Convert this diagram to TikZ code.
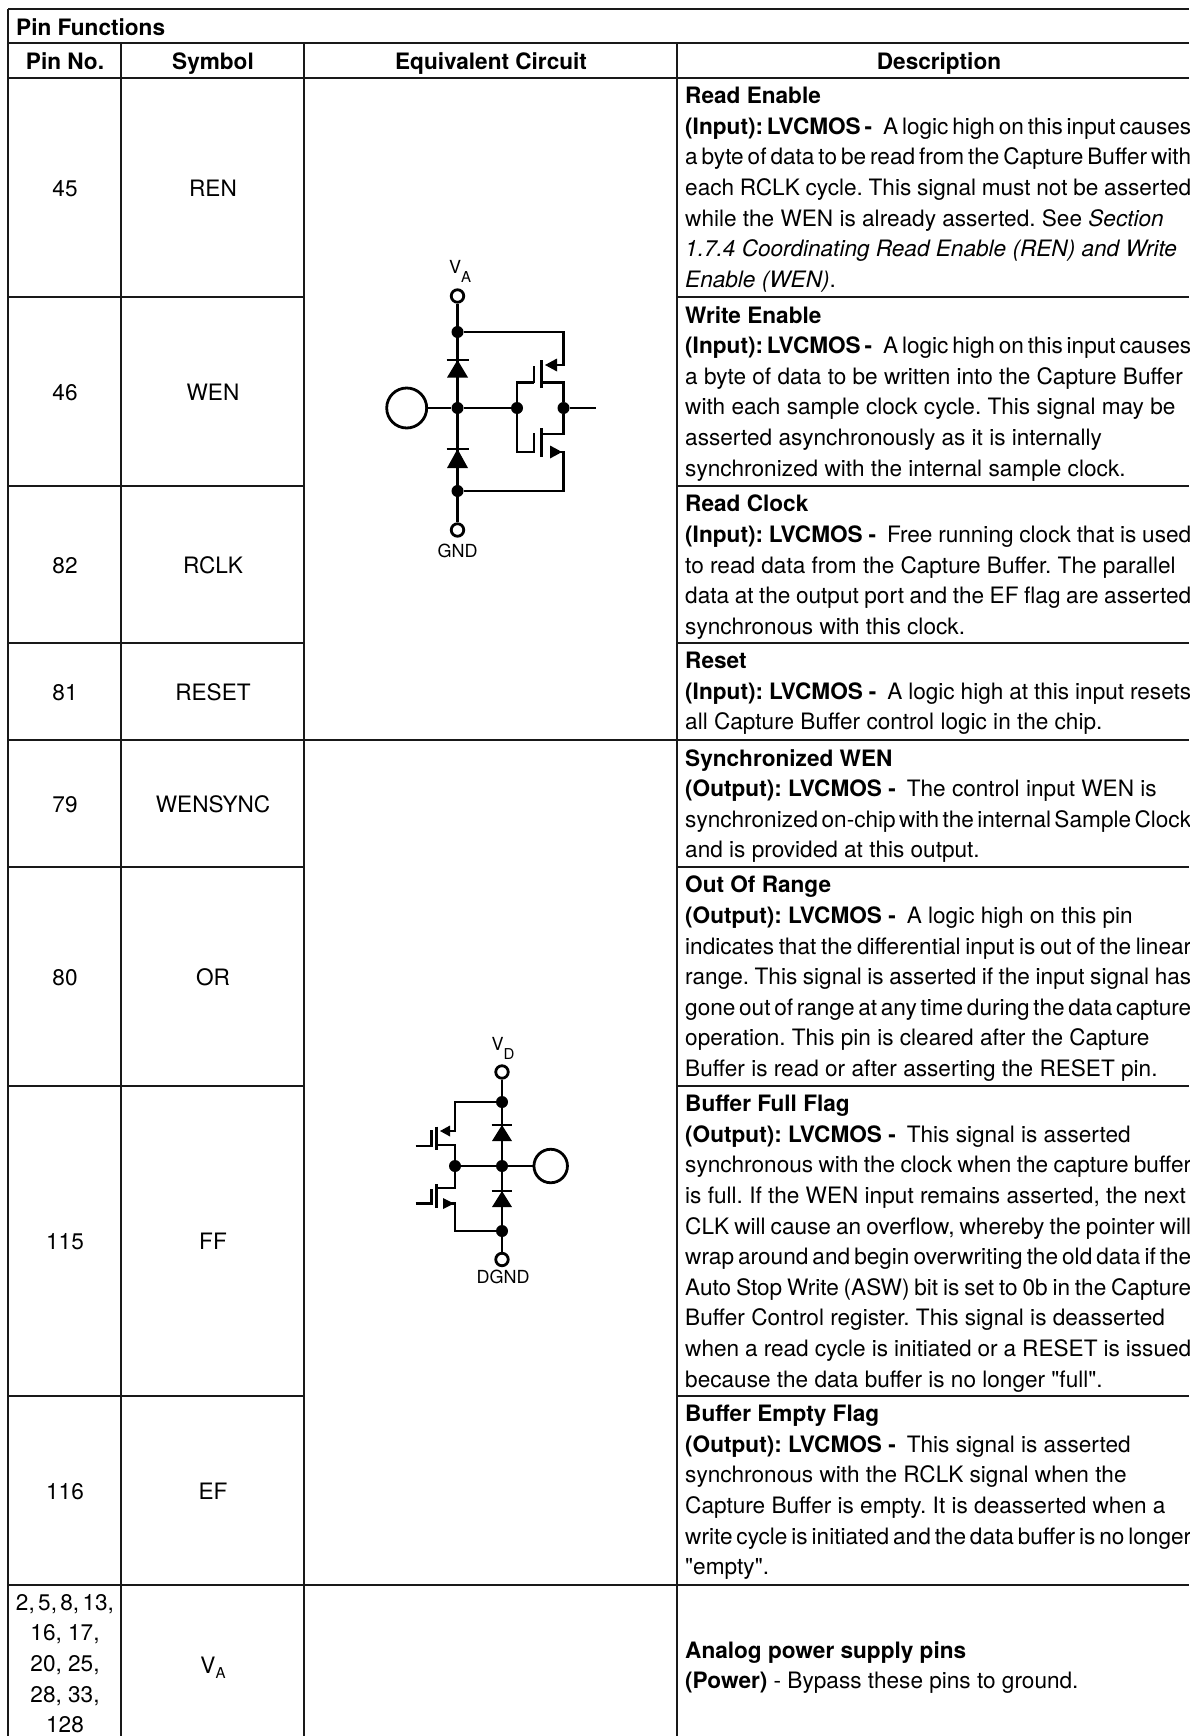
\documentclass[tikz,border=0pt]{standalone}
\usepackage{fontspec}
\setmainfont{TeX Gyre Heros}
\newfontfamily\plainfont{TeX Gyre Heros}
\newcommand{\fitline}[1]{\hbox to 506pt{\spaceskip=.278em plus .1em minus .2em\relax #1}}
\newcommand{\fitpins}[1]{\hbox to 98pt{\spaceskip=.278em plus .1em minus .2em\relax #1}}
\newcommand{\subsym}[2]{V\raisebox{#2}{\fontsize{15}{15}\selectfont #1}}
\newcommand{\straightq}{{\plainfont"}}
\begin{document}
\begin{tikzpicture}[x=1pt,y=-1pt]
	\tikzstyle{rule}=[draw=black!90,line width=2pt]
	\tikzstyle{edge}=[draw=black,line width=2.8pt]
	\tikzstyle{body}=[inner sep=0pt,font=\fontsize{22.6}{30.6}\selectfont\frenchspacing,align=center]
	\tikzstyle{desc}=[body,anchor=north west,align=left,execute at begin node=\strut]
	\tikzstyle{head}=[body,font=\fontsize{22.6}{30.6}\selectfont\bfseries]
	\tikzstyle{dot}=[circle,fill=black,inner sep=0pt,minimum size=12pt]
	\tikzstyle{ring}=[circle,draw=black,line width=2.8pt,fill=white,inner sep=0pt,minimum size=12.5pt]
	\tikzstyle{pad}=[circle,draw=black,line width=2.8pt,fill=white,inner sep=0pt]
	\tikzstyle{lab}=[inner sep=0pt,font=\fontsize{18}{20}\selectfont]

	\useasboundingbox (0,0) rectangle (1189,1736);

	% table rules
	\path[rule] (8,9) -- (1189,9);
	\path[rule] (8,43) -- (1189,43);
	\path[rule] (8,78) -- (1189,78);
	\path[rule] (8,297) -- (304,297);
	\path[rule] (677,297) -- (1189,297);
	\path[rule] (8,486) -- (304,486);
	\path[rule] (677,486) -- (1189,486);
	\path[rule] (8,643) -- (304,643);
	\path[rule] (677,643) -- (1189,643);
	\path[rule] (8,740) -- (1189,740);
	\path[rule] (8,867) -- (304,867);
	\path[rule] (677,867) -- (1189,867);
	\path[rule] (8,1086) -- (304,1086);
	\path[rule] (677,1086) -- (1189,1086);
	\path[rule] (8,1396) -- (304,1396);
	\path[rule] (677,1396) -- (1189,1396);
	\path[rule] (8,1585) -- (1189,1585);
	\path[rule] (8,9) -- (8,1736);
	\path[rule] (121,43) -- (121,1736);
	\path[rule] (304,43) -- (304,1736);
	\path[rule] (677,43) -- (677,1736);

	% header
	\node [head,anchor=base west] (title) at (16,36) {Pin Functions};
	\node [head,anchor=base] (hpin) at (65,70) {Pin No.};
	\node [head,anchor=base] (hsym) at (213,70) {Symbol};
	\node [head,anchor=base] (hcir) at (491,70) {Equivalent Circuit};
	\node [head,anchor=base] (hdes) at (939,70) {Description};

	% pin numbers and symbols
	\node [body,anchor=base] (p45) at (65,196.5) {45};
	\node [body,anchor=base] (sren) at (213,196.5) {REN};
	\node [body,anchor=base] (p46) at (65,400) {46};
	\node [body,anchor=base] (swen) at (213,400) {WEN};
	\node [body,anchor=base] (p82) at (65,573) {82};
	\node [body,anchor=base] (srclk) at (213,573) {RCLK};
	\node [body,anchor=base] (p81) at (65,700) {81};
	\node [body,anchor=base] (sreset) at (213,700) {RESET};
	\node [body,anchor=base] (p79) at (65,812) {79};
	\node [body,anchor=base] (swsync) at (213,812) {WENSYNC};
	\node [body,anchor=base] (p80) at (65,985) {80};
	\node [body,anchor=base] (sor) at (213,985) {OR};
	\node [body,anchor=base] (p115) at (65,1249) {115};
	\node [body,anchor=base] (sff) at (213,1249) {FF};
	\node [body,anchor=base] (p116) at (65,1499) {116};
	\node [body,anchor=base] (sef) at (213,1499) {EF};
	\node [desc,align=center,anchor=north] (pva) at (65,1594) {\fitpins{2, 5, 8, 13,}\\16, 17,\\20, 25,\\28, 33,\\128};
	\node [body,anchor=base] (sva) at (213,1673) {\subsym{A}{-5pt}};

	% descriptions
	\node [desc] (dren) at (685,87) {\textbf{Read Enable}\\\fitline{\textbf{(Input): LVCMOS -}\hspace{11pt}A logic high on this input causes}\\\fitline{a byte of data to be read from the Capture Buffer with}\\\fitline{each RCLK cycle. This signal must not be asserted}\\while the WEN is already asserted. See \textit{Section}\\\textit{1.7.4 Coordinating Read Enable (REN) and Write}\\\textit{Enable (WEN)}.};
	\node [desc] (dwen) at (685,306) {\textbf{Write Enable}\\\fitline{\textbf{(Input): LVCMOS -}\hspace{11pt}A logic high on this input causes}\\a byte of data to be written into the Capture Buffer\\with each sample clock cycle. This signal may be\\asserted asynchronously as it is internally\\synchronized with the internal sample clock.};
	\node [desc] (drclk) at (685,495) {\textbf{Read Clock}\\\fitline{\textbf{(Input): LVCMOS -}\hspace{11pt}Free running clock that is used}\\to read data from the Capture Buffer. The parallel\\\fitline{data at the output port and the EF flag are asserted}\\synchronous with this clock.};
	\node [desc] (dreset) at (685,652) {\textbf{Reset}\\\fitline{\textbf{(Input): LVCMOS -}\hspace{11pt}A logic high at this input resets}\\all Capture Buffer control logic in the chip.};
	\node [desc] (dwsync) at (685,749) {\textbf{Synchronized WEN}\\\textbf{(Output): LVCMOS -}\hspace{11pt}The control input WEN is\\\fitline{synchronized on-chip with the internal Sample Clock}\\and is provided at this output.};
	\node [desc] (dor) at (685,876) {\textbf{Out Of Range}\\\textbf{(Output): LVCMOS -}\hspace{11pt}A logic high on this pin\\\fitline{indicates that the differential input is out of the linear}\\\fitline{range. This signal is asserted if the input signal has}\\\fitline{gone out of range at any time during the data capture}\\operation. This pin is cleared after the Capture\\Buffer is read or after asserting the RESET pin.};
	\node [desc] (dff) at (685,1095) {\textbf{Buffer Full Flag}\\\textbf{(Output): LVCMOS -}\hspace{11pt}This signal is asserted\\\fitline{synchronous with the clock when the capture buffer}\\is full. If the WEN input remains asserted, the next\\\fitline{CLK will cause an overflow, whereby the pointer will}\\\fitline{wrap around and begin overwriting the old data if the}\\\fitline{Auto Stop Write (ASW) bit is set to 0b in the Capture}\\Buffer Control register. This signal is deasserted\\\fitline{when a read cycle is initiated or a RESET is issued}\\because the data buffer is no longer \straightq full\straightq.};
	\node [desc] (def) at (685,1405) {\textbf{Buffer Empty Flag}\\\textbf{(Output): LVCMOS -}\hspace{11pt}This signal is asserted\\synchronous with the RCLK signal when the\\Capture Buffer is empty. It is deasserted when a\\\fitline{write cycle is initiated and the data buffer is no longer}\\\straightq empty\straightq.};
	\node [desc] (dva) at (685,1641) {\textbf{Analog power supply pins}\\\textbf{(Power)} - Bypass these pins to ground.};

	% circuit for the inputs
	\node [lab] (va) at (460,271) {\subsym{A}{-9pt}};
	\node [ring] (vat) at (457.5,296) {};
	\node [dot] (a1) at (457.5,332) {};
	\node [dot] (a2) at (457.5,408) {};
	\node [dot] (a3) at (457.5,491) {};
	\node [ring] (gnd) at (457.5,530) {};
	\node [lab] (gndl) at (457.5,551) {GND};
	\node [pad,minimum size=40pt] (apad) at (406.7,408) {};
	\node [dot] (a4) at (517,408) {};
	\node [dot] (a5) at (563.5,408) {};
	\coordinate (aout) at (596,408);
	\path[edge] (vat) -- (gnd);
	\path[edge] (apad) -- (a2);
	\path[edge] (a2) -- (a4);
	\path[edge] (a5) -- (aout);
	\path[edge] (a1) -| (563.5,365) -- (555,365);
	\path[edge] (a3) -| (563.5,452) -- (553,452);
	\path[edge] (a4) |- (534,382.7);
	\path[edge] (a4) |- (534,452);
	\path[edge] (a5) |- (541.7,382.7);
	\path[edge] (a5) |- (541.7,434);
	\path[edge] (534,366) -- (534,383);
	\path[edge] (534,433) -- (534,453);
	\path[edge] (541.7,360) -- (541.7,388);
	\path[edge] (541.7,428) -- (541.7,457);
	\fill (545,365) -- (557,358.5) -- (557,371.5) -- cycle;
	\fill (562,452) -- (550,445.5) -- (550,458.5) -- cycle;
	\path[edge] (446.7,360) -- (469,360);
	\fill (457.5,360) -- (447,377.5) -- (468,377.5) -- cycle;
	\path[edge] (446.7,449) -- (469,449);
	\fill (457.5,449) -- (447,468) -- (468,468) -- cycle;

	% circuit for the outputs
	\node [lab] (vd) at (503,1048) {\subsym{D}{-9pt}};
	\node [ring] (vdt) at (502,1072) {};
	\node [dot] (b1) at (502,1102) {};
	\node [dot] (b2) at (502,1166) {};
	\node [dot] (b3) at (502,1231) {};
	\node [ring] (dgnd) at (502,1259.5) {};
	\node [lab] (dgndl) at (503,1277) {DGND};
	\node [pad,minimum size=33.5pt] (bpad) at (550.7,1166) {};
	\node [dot] (b4) at (455,1166) {};
	\path[edge] (vdt) -- (dgnd);
	\path[edge] (bpad) -- (b2);
	\path[edge] (b2) -- (b4);
	\path[edge] (b1) -| (455,1131) -- (446,1131);
	\path[edge] (b3) -| (455,1203.5) -- (447,1203.5);
	\path[edge] (b4) |- (436.7,1145);
	\path[edge] (b4) |- (436.7,1188);
	\path[edge] (415.7,1146) -- (431.7,1146) -- (431.7,1130);
	\path[edge] (415.7,1203.5) -- (431.7,1203.5) -- (431.7,1189);
	\path[edge] (436.7,1126.7) -- (436.7,1150);
	\path[edge] (436.7,1184) -- (436.7,1208);
	\fill (440,1131) -- (450,1125.5) -- (450,1136.5) -- cycle;
	\fill (454,1203.5) -- (443,1198) -- (443,1209) -- cycle;
	\path[edge] (491.7,1125) -- (512,1125);
	\fill (502,1125) -- (492,1141) -- (512,1141) -- cycle;
	\path[edge] (491.7,1191) -- (512,1191);
	\fill (502,1191) -- (492,1207) -- (512,1207) -- cycle;
\end{tikzpicture}
\end{document}
